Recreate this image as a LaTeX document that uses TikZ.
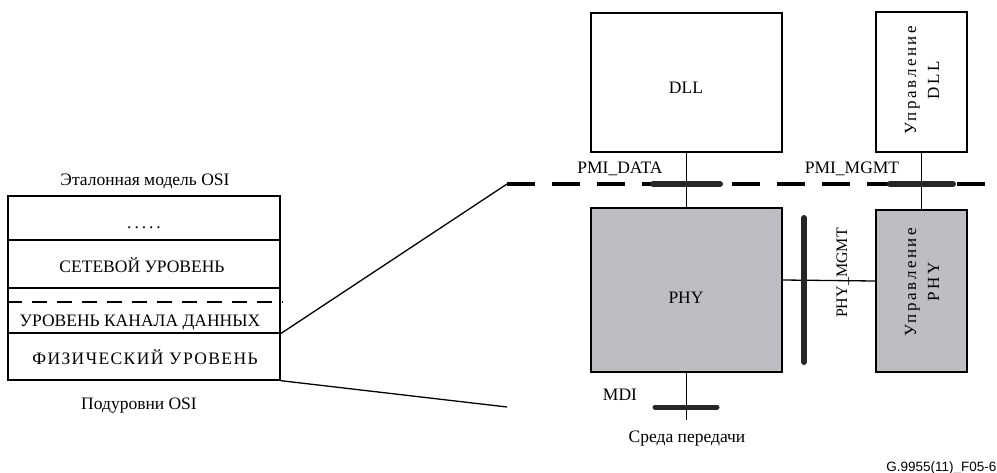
\documentclass[tikz,border=0pt]{standalone}
\usepackage{fontspec}
\setmainfont{Liberation Serif}
\newfontfamily\spacedfont[LetterSpace=15]{Liberation Serif}
\newfontfamily\figfont{Liberation Sans}
\definecolor{phygray}{RGB}{188,190,196}
\definecolor{barblack}{RGB}{38,38,38}

\begin{document}
\begin{tikzpicture}[x=1pt, y=-1pt, line width=1.3pt,
		font=\fontsize{17.5}{23}\selectfont,
		layer/.style={draw, inner sep=0pt, minimum width=272pt},
		block/.style={draw, inner sep=0pt},
		mgmt/.style={block, fill=phygray},
		txt/.style={anchor=base, inner sep=0pt},
		vtxt/.style={rotate=90, align=center, inner sep=0pt,
			font=\fontsize{17}{23}\spacedfont},
		bar/.style={draw=barblack, line width=6pt, line cap=round},
		split/.style={dash pattern=on 28pt off 17pt, line width=3.2pt}]
	\useasboundingbox (0,0) rectangle (997,472);
	% ---- OSI reference model ----
	\node[txt] (osititle) at (145,185) {Эталонная модель OSI};
	\node[layer, minimum height=44pt] (upper) at (144,218) {};
	\node[layer, minimum height=48pt] (net) at (144,264) {};
	\node[layer, minimum height=45pt] (dlc) at (144,310.5) {};
	\node[layer, minimum height=47pt] (phys) at (144,356.5) {};
	\node[txt] (uppertxt) at (144,228) {.\,.\,.\,.\,.};
	\node[txt] (nettxt) at (142,272) {СЕТЕВОЙ УРОВЕНЬ};
	\node[txt] (dlctxt) at (140,326) {УРОВЕНЬ КАНАЛА ДАННЫХ};
	\node[txt] (phystxt) at (145,364) {\addfontfeature{LetterSpace=8}ФИЗИЧЕСКИЙ УРОВЕНЬ};
	\node[txt] (subtitle) at (139,409) {Подуровни OSI};
	\draw[dash pattern=on 15pt off 10pt, line width=2pt]
		([yshift=8.5pt]dlc.west) -- ([xshift=2pt,yshift=8.5pt]dlc.east);
	% ---- zoom onto the sublayers ----
	\coordinate (zoomtop) at (507,184);
	\coordinate (zoombot) at (507,407);
	\coordinate (splitend) at (997,184);
	\draw (dlc.south east) -- (zoomtop);
	\draw (phys.south east) -- (zoombot);
	\draw[split] (zoomtop) -- (splitend);
	% ---- DLL and its management ----
	\node[block, minimum width=191pt, minimum height=139pt] (dll) at (686.5,82.5) {};
	\node[txt] (dlltxt) at (686,93) {DLL};
	\node[block, minimum width=91pt, minimum height=140pt] (dllmgmt) at (921.5,82) {};
	\node[vtxt] (dllmgmttxt) at (922,80) {Управление\\DLL};
	% ---- PHY and its management ----
	\node[mgmt, minimum width=191pt, minimum height=164pt] (phy) at (686.5,290) {};
	\node[txt] (phytxt) at (686,303) {PHY};
	\node[mgmt, minimum width=91pt, minimum height=162pt] (phymgmt) at (921.5,291) {};
	\node[vtxt] (phymgmttxt) at (922,282) {Управление\\PHY};
	% ---- interfaces ----
	\draw (dll) -- (phy);
	\draw (dllmgmt) -- (phymgmt);
	\draw[bar] (653,184) -- (720,184);
	\draw[bar] (890,184) -- (953,184);
	\node[txt] (pmidata) at (620,173) {PMI\_DATA};
	\node[txt] (pmimgmt) at (852,173) {PMI\_MGMT};
	\draw ([yshift=10pt]phy.east) -- ([yshift=10pt]phymgmt.west);
	\draw[bar] (804,218) -- (804,362);
	\node[txt, rotate=90, font=\fontsize{16}{19}\selectfont] (phymgmtlbl) at (847,273) {PHY\_MGMT};
	\coordinate (medium) at (686.5,420);
	\draw (phy.south) -- (medium);
	\draw[bar, line width=5pt] (655,407) -- (717,407);
	\node[txt] (mdi) at (620,400) {MDI};
	\node[txt] (mediumtxt) at (687,442) {Среда передачи};
	\node[anchor=base east, inner sep=0pt, font=\fontsize{13.5}{16}\figfont]
		(figid) at (997,471) {G.9955(11)\_F05-6};
\end{tikzpicture}
\end{document}
